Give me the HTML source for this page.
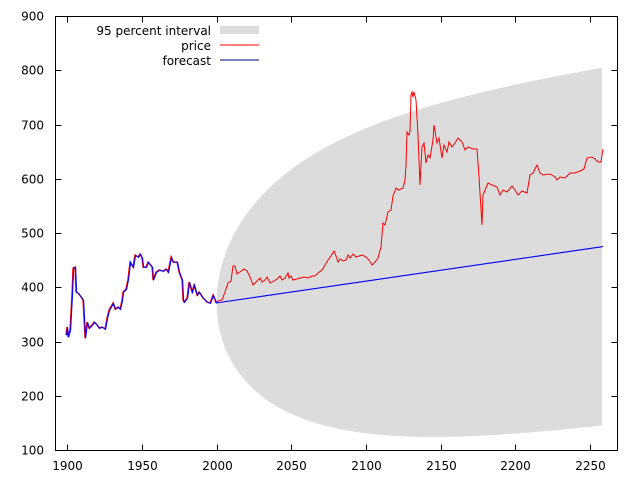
<!DOCTYPE html>
<html><head><meta charset="utf-8"><style>
html,body{margin:0;padding:0;background:#fff}
svg{display:block}
text{font-family:"DejaVu Sans","Liberation Sans",sans-serif;font-size:12px;fill:#000}
</style></head><body>
<svg id="s" width="640" height="480" xmlns="http://www.w3.org/2000/svg">
<path id="band" fill="#dcdcdc" stroke="none" d=""/>
<polyline fill="none" stroke="#ff0000" stroke-width="1" points="216,303 218,301 222,300 225,292 228,283 231,281 233,266 235,266 237,274 240,272 244,269 247,271 250,277 253,285 256,282 260,278 262,282 265,280 267,277 270,283 274,281 277,279 280,276 282,280 285,278 288,273 289,278 291,276 293,280 297,279 300,278 304,277 308,278 312,276 315,276 318,273 322,270 325,265 328,260 331,256 334,251 336,256 338,262 340,259 343,261 346,260 348,255 350,258 353,254 356,257 359,256 362,255 366,257 369,260 372,265 375,262 378,258 381,247 383,223 385,225 388,212 391,210 393,196 396,188 398,190 401,189 403,188 405,180 406,165 407,132 409,135 410,131 411,95 412,92 413,97 414,92 416,100 418,135 420,185 422,147 424,143 426,163 428,155 430,158 433,140 434,125 437,143 439,138 442,158 444,145 447,152 449,142 452,147 455,143 458,138 462,142 465,150 468,147 473,149 477,149 479,177 482,225 483,195 488,183 492,185 497,187 500,195 503,190 507,192 512,186 515,190 518,195 522,191 527,193 530,175 533,173 537,165 540,173 543,175 550,174 555,177 557,180 560,177 565,178 570,173 575,173 580,171 584,169 587,158 592,157 595,159 598,162 601,162 603,149"/>
<polyline fill="none" stroke="#ff0000" stroke-width="1.3" points="66,335 67,327 68,337 70,330 72,293 73,268 75,267 76,292 78,293 81,297 83,300 85,338 87,322 89,328 92,325 94,322 97,325 99,328 102,327 105,329 107,318 109,310 113,303 115,309 118,307 120,309 122,300 123,292 126,289 128,279 130,262 133,267 135,255 138,257 140,254 142,258 143,267 146,267 148,262 152,267 153,280 156,272 159,270 163,271 166,269 168,272 171,257 173,262 177,262 179,272 182,280 183,300 184,302 187,298 189,282 192,292 194,285 197,295 199,292 203,298 207,302 210,303 213,295 215,300 216,303"/>
<polyline fill="none" stroke="#0000ff" stroke-width="1.1" transform="translate(0.6,0.3)" points="66,335 67,327 68,337 70,330 72,293 73,268 75,267 76,292 78,293 81,297 83,300 85,338 87,322 89,328 92,325 94,322 97,325 99,328 102,327 105,329 107,318 109,310 113,303 115,309 118,307 120,309 122,300 123,292 126,289 128,279 130,262 133,267 135,255 138,257 140,254 142,258 143,267 146,267 148,262 152,267 153,280 156,272 159,270 163,271 166,269 168,272 171,257 173,262 177,262 179,272 182,280 183,300 184,302 187,298 189,282 192,292 194,285 197,295 199,292 203,298 207,302 210,303 213,295 215,300 216,303"/>
<line x1="216" y1="303" x2="603" y2="246.6" stroke="#0000ff" stroke-width="1.1"/>
<g id="axes" stroke="#000" stroke-width="1" fill="none">
<rect x="55.5" y="16.5" width="562" height="434"/>
</g>
<g id="lab"></g>
<text x="211" y="35" text-anchor="end">95 percent interval</text>
<text x="211" y="50" text-anchor="end">price</text>
<text x="211" y="65" text-anchor="end">forecast</text>
<rect x="220" y="26" width="39" height="8" fill="#dcdcdc"/>
<line x1="220" y1="45" x2="259" y2="45" stroke="#ff0000"/>
<line x1="220" y1="60" x2="259" y2="60" stroke="#000080"/>
</svg>
<script>
var X=function(y){return 67.2+(y-1900)*1.494;},Y=function(v){return 450-(v-100)*0.5425;};
var up=[],lo=[];
for(var t=0;t<=258;t+=0.5){var c=372+t*103/258,w=338*Math.sqrt(1-Math.exp(-t/85));up.push(X(2000+t).toFixed(2)+","+Y(c+w).toFixed(2));lo.push(X(2000+t).toFixed(2)+","+Y(c-w).toFixed(2));}
document.getElementById('band').setAttribute('d','M'+up.join(' L')+' L'+lo.reverse().join(' L')+'Z');
var ns="http://www.w3.org/2000/svg",ax=document.getElementById('axes'),lab=document.getElementById('lab');
function ln(a,b,c,d){var l=document.createElementNS(ns,'line');l.setAttribute('x1',a);l.setAttribute('y1',b);l.setAttribute('x2',c);l.setAttribute('y2',d);ax.appendChild(l);}
function tx(x,y,s,anc){var e=document.createElementNS(ns,'text');e.setAttribute('x',x);e.setAttribute('y',y);e.setAttribute('text-anchor',anc);e.textContent=s;lab.appendChild(e);}
for(var v=100;v<=900;v+=100){var y=Math.round(Y(v))+0.5;ln(55.5,y,61.5,y);ln(617.5,y,611.5,y);tx(44,y+4,v,'end');}
for(var yr=1900;yr<=2250;yr+=50){var x=Math.round(X(yr))+0.5;ln(x,450.5,x,444.5);ln(x,16.5,x,22.5);tx(x,470,yr,'middle');}
</script>
</body></html>
